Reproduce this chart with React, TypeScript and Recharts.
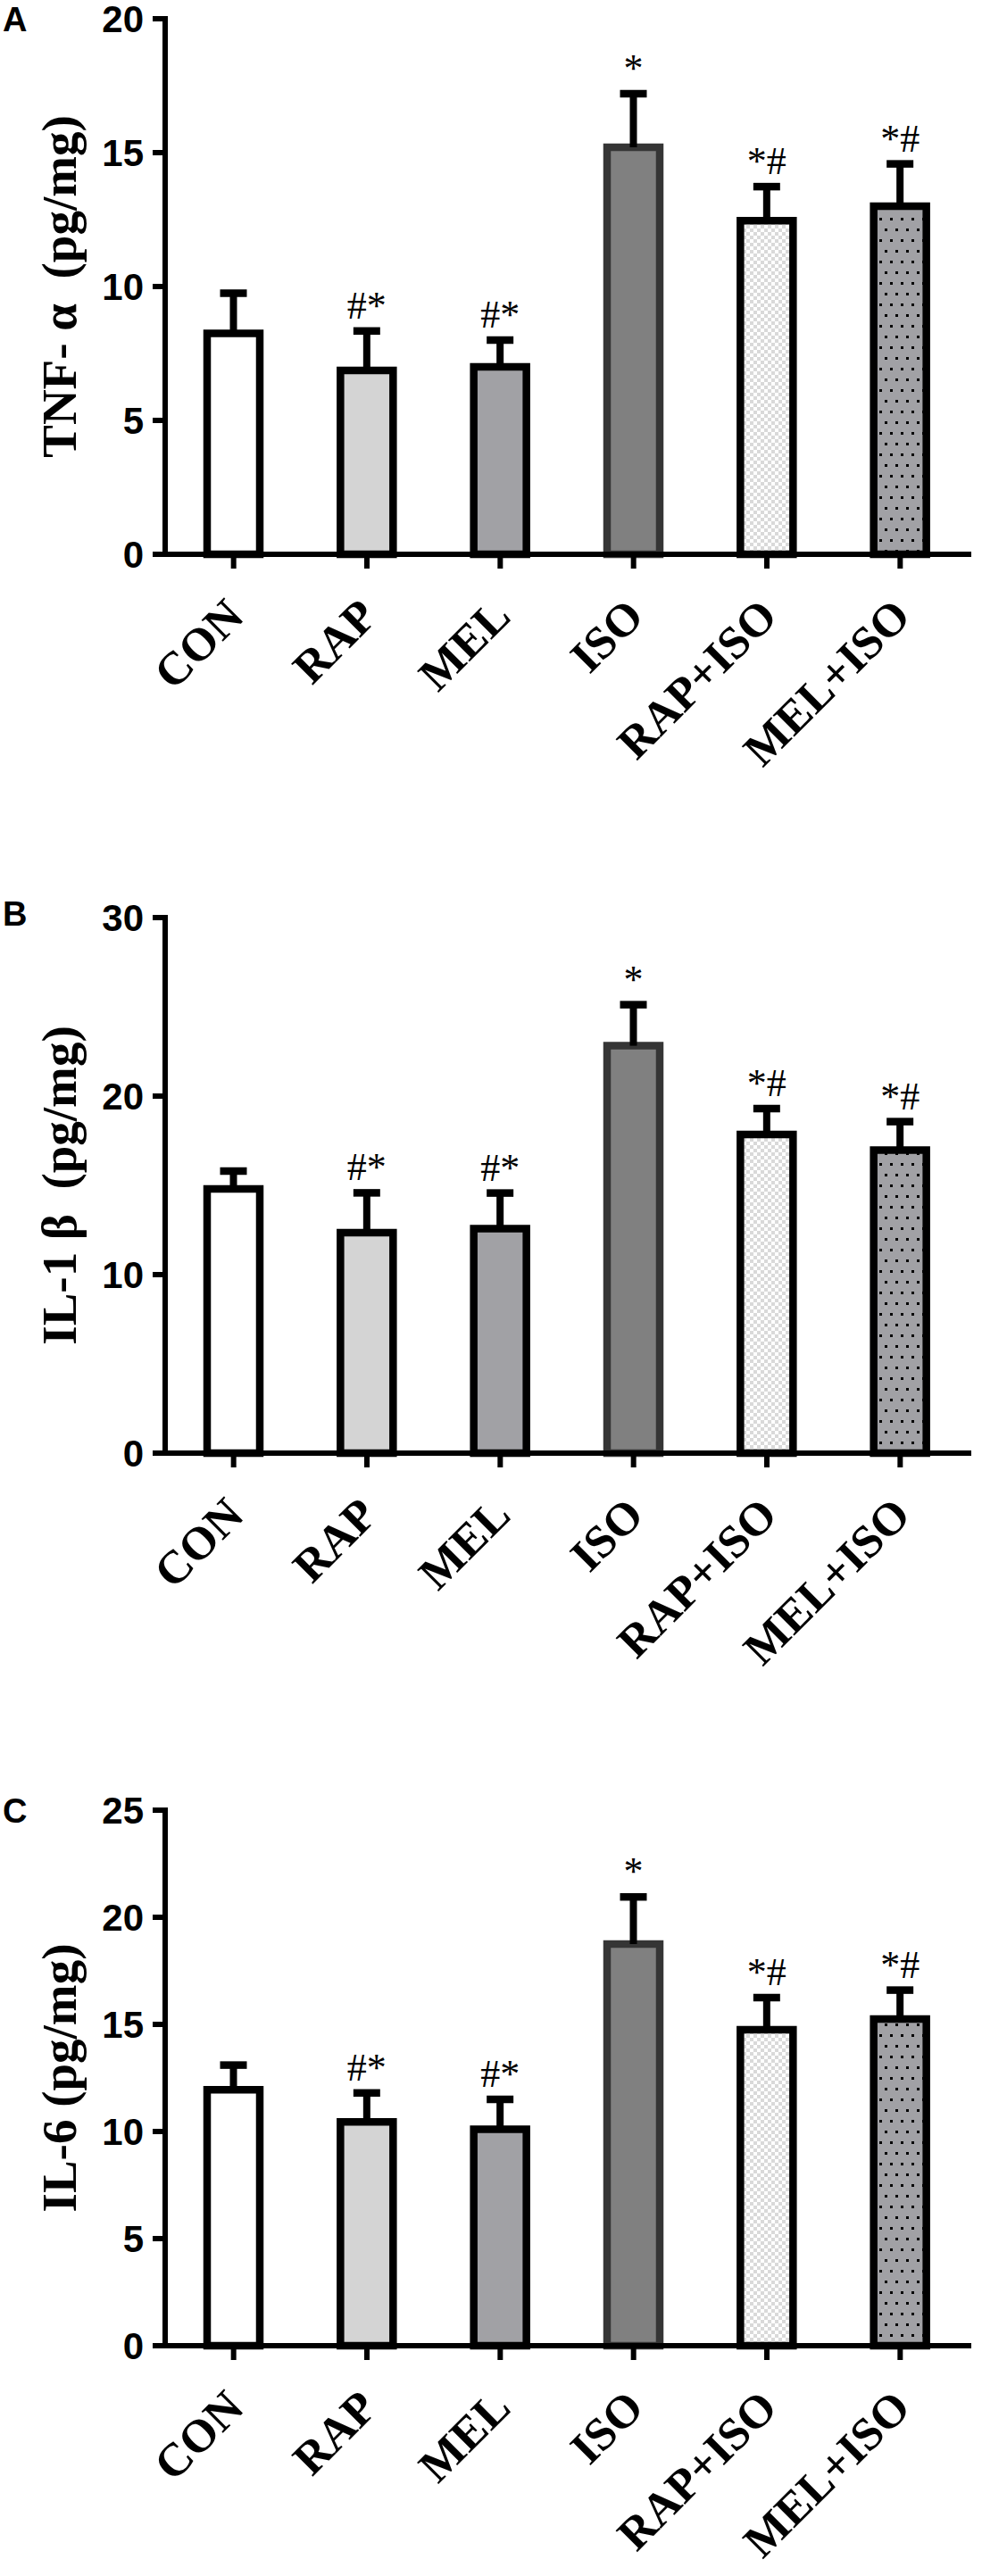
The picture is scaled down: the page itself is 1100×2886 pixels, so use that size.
import React from 'react';
import { BarChart, Bar, XAxis, YAxis, Cell, LabelList } from 'recharts';

const categories = ['CON', 'RAP', 'MEL', 'ISO', 'RAP+ISO', 'MEL+ISO'];
const significance = ['', '#*', '#*', '*', '*#', '*#'];

const tnfMean = [8.25, 6.87, 7.0, 15.2, 12.46, 13.0];
const tnfErr = [1.5, 1.47, 1.0, 2.0, 1.27, 1.58];
const tnfTicks = [0, 5, 10, 15, 20];

const il1Mean = [14.8, 12.35, 12.57, 22.82, 17.85, 16.97];
const il1Err = [1.0, 2.23, 2.0, 2.3, 1.45, 1.6];
const il1Ticks = [0, 10, 20, 30];

const il6Mean = [11.95, 10.45, 10.1, 18.75, 14.75, 15.25];
const il6Err = [1.15, 1.35, 1.4, 2.2, 1.5, 1.35];
const il6Ticks = [0, 5, 10, 15, 20, 25];

const FILLS = ['#ffffff', '#d4d4d4', '#a1a1a5', '#808080', 'url(#checkerFill)', 'url(#dotFill)'];
const STROKES = ['#000', '#000', '#000', '#353535', '#000', '#000'];

const SERIF = "'Liberation Serif', 'Times New Roman', serif";
const SANS = "'Liberation Sans', Arial, sans-serif";

const PAGE_H = 2886;
const PLOT_H = 600;
const XAXIS_H = 200;

const XTick = (props: any) => {
  const { x, y, payload } = props;
  const ax = x + 14;
  const ay = y + 56;
  return (
    <text
      x={ax}
      y={ay}
      transform={`rotate(-45 ${ax} ${ay})`}
      textAnchor="end"
      fontFamily={SERIF}
      fontWeight="bold"
      fontSize={52}
      fill="#000"
    >
      {payload.value}
    </text>
  );
};

const ErrShape = (props: any) => {
  const { x, y, width, height } = props;
  if (x == null || y == null) return null;
  const cx = x + width / 2;
  return (
    <g>
      <line x1={cx} x2={cx} y1={y + height} y2={y} stroke="#000" strokeWidth={8} />
      <line x1={cx - 15} x2={cx + 15} y1={y} y2={y} stroke="#000" strokeWidth={8.5} />
    </g>
  );
};

const SigLabel = (props: any) => {
  const { x, y, width, value } = props;
  if (!value) return null;
  return (
    <text
      x={Number(x) + Number(width) / 2}
      y={Number(y) - 14}
      textAnchor="middle"
      fontFamily={SERIF}
      fontSize={44}
      fill="#000"
    >
      {value}
    </text>
  );
};

type PanelProps = {
  plotTop: number;
  mean: number[];
  err: number[];
  ticks: number[];
  title: string;
  letter: string;
  letterY: number;
};

const Panel = ({ plotTop, mean, err, ticks, title, letter, letterY }: PanelProps) => {
  const data = categories.map((name, i) => ({
    name,
    mean: mean[i],
    err: err[i],
    sig: significance[i],
  }));
  const max = ticks[ticks.length - 1];
  const chartTop = Math.max(0, plotTop - 41);
  const chartH = Math.min(950, PAGE_H - chartTop);
  const mTop = plotTop - chartTop;
  const mBottom = chartH - mTop - PLOT_H - XAXIS_H;
  const cy = mTop + PLOT_H / 2;
  return (
    <div style={{ position: 'absolute', left: 0, top: chartTop, width: 1100, height: chartH }}>
      <BarChart
        width={1100}
        height={chartH}
        data={data}
        margin={{ top: mTop, right: 12, bottom: mBottom, left: 65 }}
        barSize={59}
      >
        <XAxis
          dataKey="name"
          type="category"
          interval={0}
          height={XAXIS_H}
          padding={{ left: 2, right: 5 }}
          tickSize={16}
          tickMargin={0}
          axisLine={{ stroke: '#000', strokeWidth: 6 }}
          tickLine={{ stroke: '#000', strokeWidth: 6 }}
          tick={<XTick />}
        />
        <YAxis
          type="number"
          width={120}
          domain={[0, max]}
          ticks={ticks}
          interval={0}
          tickSize={14}
          tickMargin={10}
          axisLine={{ stroke: '#000', strokeWidth: 6, strokeLinecap: 'square' }}
          tickLine={{ stroke: '#000', strokeWidth: 6 }}
          tick={{ fill: '#000', fontFamily: SANS, fontWeight: 700, fontSize: 42 }}
          label={() => (
            <g>
              <text
                x={85}
                y={cy}
                transform={`rotate(-90 85 ${cy})`}
                textAnchor="middle"
                fontFamily={SERIF}
                fontWeight="bold"
                fontSize={55}
                fill="#000"
              >
                {title}
              </text>
              <text x={3} y={letterY - chartTop} fontFamily={SANS} fontWeight="bold" fontSize={38} fill="#000">
                {letter}
              </text>
            </g>
          )}
        />
        <Bar dataKey="mean" stackId="s" strokeWidth={8.5} isAnimationActive={false}>
          {data.map((d, i) => (
            <Cell key={d.name} fill={FILLS[i]} stroke={STROKES[i]} />
          ))}
        </Bar>
        <Bar dataKey="err" stackId="s" fill="none" shape={<ErrShape />} isAnimationActive={false}>
          <LabelList dataKey="sig" content={<SigLabel />} />
        </Bar>
      </BarChart>
    </div>
  );
};

export default function App() {
  return (
    <div style={{ position: 'absolute', left: 0, top: 0, width: 1100, height: PAGE_H, background: '#fff', overflow: 'hidden' }}>
      <svg width="0" height="0" style={{ position: 'absolute' }}>
        <defs>
          <pattern id="checkerFill" patternUnits="userSpaceOnUse" width="8" height="8">
            <rect width="8" height="8" fill="#ffffff" />
            <rect width="4" height="4" fill="#d9d9d9" />
            <rect x="4" y="4" width="4" height="4" fill="#d9d9d9" />
          </pattern>
          <pattern id="dotFill" patternUnits="userSpaceOnUse" width="12" height="24">
            <rect width="12" height="24" fill="#a1a1a5" />
            <rect x="1" y="4" width="3" height="3" fill="#000" />
            <rect x="7" y="16" width="3" height="3" fill="#000" />
          </pattern>
        </defs>
      </svg>
      <Panel
        plotTop={21}
        mean={tnfMean}
        err={tnfErr}
        ticks={tnfTicks}
        title={'TNF-\u00A0α\u00A0\u00A0(pg/mg)'}
        letter="A"
        letterY={35}
      />
      <Panel
        plotTop={1028}
        mean={il1Mean}
        err={il1Err}
        ticks={il1Ticks}
        title={'IL-1\u00A0β\u00A0\u00A0(pg/mg)'}
        letter="B"
        letterY={1037}
      />
      <Panel
        plotTop={2028}
        mean={il6Mean}
        err={il6Err}
        ticks={il6Ticks}
        title={'IL-6 (pg/mg)'}
        letter="C"
        letterY={2042}
      />
    </div>
  );
}
